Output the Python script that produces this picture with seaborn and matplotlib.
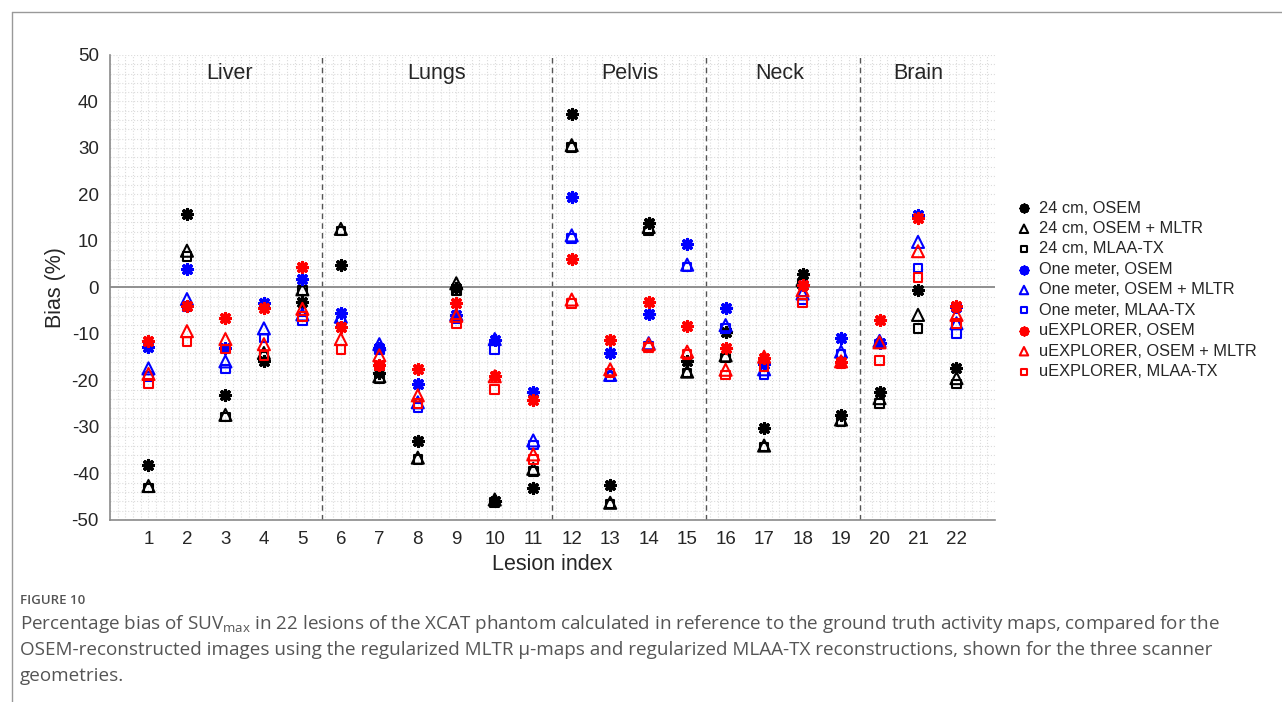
import numpy as np
import pandas as pd
import matplotlib
matplotlib.use('Agg')
import matplotlib.pyplot as plt
from matplotlib.ticker import MultipleLocator
import seaborn as sns

sns.set_style('white')
plt.rcParams['font.family'] = ['Liberation Sans', 'DejaVu Sans']
plt.rcParams['axes.unicode_minus'] = False

# Lesion indices and regions
lesions = list(range(1, 23))
regions = ['Liver', 'Lungs', 'Pelvis', 'Neck', 'Brain']
region_centers = [3.1, 8.5, 13.5, 17.4, 21.0]
region_bounds = [5.5, 11.5, 15.5, 19.5]

# Bias (%) per lesion
cm24_osem = [-38.1, 15.7, -23.1, -15.9, -3.2, 4.8, -18.4, -33.1, -0.2, -45.9, -43.1,
             37.3, -42.4, 13.9, -15.8, -9.6, -30.2, 2.8, -27.4, -22.5, -0.6, -17.4]
cm24_mltr = [-42.7, 7.9, -27.4, -14.1, -0.4, 12.6, -19.1, -36.6, 0.9, -45.6, -39.0,
             30.6, -46.3, 13.0, -18.1, -14.6, -34.0, 1.6, -28.4, -23.8, -5.9, -19.5]
cm24_mlaa = [-43.1, 6.6, -27.9, -14.9, -0.7, 12.1, -19.7, -37.0, -0.8, -46.3, -39.6,
             30.1, -46.6, 12.1, -18.4, -15.2, -34.3, 0.9, -28.8, -24.9, -8.8, -20.8]
one_osem = [-12.9, 3.9, -13.1, -3.3, 1.8, -5.4, -13.1, -20.8, -6.0, -11.3, -22.4,
            19.4, -14.1, -5.7, 9.3, -4.5, -16.5, 0.5, -10.9, -12.0, 15.5, -4.1]
one_mltr = [-17.4, -2.5, -15.9, -8.8, -5.8, -6.3, -12.2, -24.7, -5.8, -11.1, -32.9,
            11.2, -18.8, -12.0, 4.9, -8.1, -17.6, -1.3, -13.8, -11.5, 9.8, -7.7]
one_mlaa = [-19.1, -4.1, -17.5, -10.9, -7.1, -7.3, -13.4, -25.8, -6.8, -13.3, -33.9,
            10.5, -19.1, -12.6, 4.4, -8.8, -18.8, -2.7, -14.4, -12.2, 4.2, -9.9]
uex_osem = [-11.6, -3.9, -6.6, -4.4, 4.3, -8.4, -16.6, -17.6, -3.4, -19.0, -24.3,
            6.2, -11.3, -3.2, -8.2, -13.1, -15.2, 0.6, -16.1, -7.0, 14.9, -3.9]
uex_mltr = [-18.6, -9.4, -11.1, -12.2, -4.6, -11.1, -14.6, -23.2, -6.1, -19.1, -35.9,
            -2.6, -17.6, -12.2, -13.8, -17.7, -14.9, -0.6, -15.9, -11.8, 7.8, -5.9]
uex_mlaa = [-20.7, -11.6, -13.2, -14.6, -6.3, -13.4, -16.9, -24.9, -7.7, -22.0, -37.0,
            -3.4, -18.4, -12.9, -14.4, -18.8, -17.0, -3.3, -16.3, -15.7, 2.1, -7.7]

series = [
    ('24 cm, OSEM', cm24_osem, 'black', 'osem'),
    ('24 cm, OSEM + MLTR', cm24_mltr, 'black', 'mltr'),
    ('24 cm, MLAA-TX', cm24_mlaa, 'black', 'mlaa'),
    ('One meter, OSEM', one_osem, '#0000ff', 'osem'),
    ('One meter, OSEM + MLTR', one_mltr, '#0000ff', 'mltr'),
    ('One meter, MLAA-TX', one_mlaa, '#0000ff', 'mlaa'),
    ('uEXPLORER, OSEM', uex_osem, '#ff0000', 'osem'),
    ('uEXPLORER, OSEM + MLTR', uex_mltr, '#ff0000', 'mltr'),
    ('uEXPLORER, MLAA-TX', uex_mlaa, '#ff0000', 'mlaa'),
]

fig = plt.figure(figsize=(12.82, 7.02), dpi=100)
ax = fig.add_axes([0.0858, 0.2593, 0.6903, 0.6624])

for name, vals, col, kind in series:
    df = pd.DataFrame({'Lesion': lesions, 'Bias': vals})
    if kind == 'osem':
        sns.scatterplot(data=df, x='Lesion', y='Bias', marker=(8, 2, 0), s=50,
                        color=col, linewidth=2.4, label=name, ax=ax, zorder=3)
    elif kind == 'mltr':
        sns.scatterplot(data=df, x='Lesion', y='Bias', marker='^', s=75,
                        facecolor='none', edgecolor=col, linewidth=1.5,
                        label=name, ax=ax, zorder=3)
    else:
        sns.scatterplot(data=df, x='Lesion', y='Bias', marker='s', s=38,
                        facecolor='none', edgecolor=col, linewidth=1.5,
                        label=name, ax=ax, zorder=3)

# region separators and titles
for b in region_bounds:
    ax.axvline(b, color='#555555', linestyle=(0, (4, 3)), linewidth=1.0, zorder=2)
for r, c in zip(regions, region_centers):
    ax.text(c, 46, r, ha='center', va='center', fontsize=15.5)
ax.axhline(0, color='#888888', linewidth=1.3, zorder=2)

ax.set_xlim(0, 23)
ax.set_ylim(-50, 50)
ax.set_xticks(lesions)
ax.set_yticks(np.arange(-50, 51, 10))
ax.xaxis.set_minor_locator(MultipleLocator(0.2))
ax.yaxis.set_minor_locator(MultipleLocator(2))
ax.grid(which='both', color='#dcdcdc', linestyle=':', linewidth=0.8)
ax.tick_params(axis='both', which='major', direction='in', length=5, labelsize=13.5,
               color='#444444', pad=8)
ax.tick_params(axis='both', which='minor', length=0)
for s in ['top', 'right']:
    ax.spines[s].set_visible(False)
for s in ['left', 'bottom']:
    ax.spines[s].set_color('#8a8a8a')
    ax.spines[s].set_linewidth(1.2)
ax.set_xlabel('Lesion index', fontsize=15.5)
ax.set_ylabel('Bias (%)', fontsize=15.5)

ax.legend(loc='center left', bbox_to_anchor=(1.005, 0.495), frameon=False,
          fontsize=11.8, labelspacing=0.33, handletextpad=0.3, markerscale=0.7,
          handlelength=1.2)

# figure frame and caption
fig.add_artist(plt.Line2D([12 / 1282, 12 / 1282], [0, 1 - 12 / 702], color='#999999', linewidth=1))
fig.add_artist(plt.Line2D([12 / 1282, 1], [1 - 12 / 702, 1 - 12 / 702], color='#999999', linewidth=1))
fig.text(20 / 1282, 1 - 601 / 702, 'FIGURE 10', fontsize=9.5, color='#555555',
         va='center', family='Open Sans', weight='semibold')
caption = [
    'Percentage bias of SUV$_{\\mathregular{max}}$ in 22 lesions of the XCAT phantom calculated in reference to the ground truth activity maps, compared for the',
    'OSEM-reconstructed images using the regularized MLTR \u03bc-maps and regularized MLAA-TX reconstructions, shown for the three scanner',
    'geometries.',
]
for i, line in enumerate(caption):
    fig.text(20 / 1282, 1 - (624 + i * 26) / 702, line, fontsize=13.6, color='#555555',
             va='center', family='Open Sans')

plt.savefig('out.png', dpi=100)
